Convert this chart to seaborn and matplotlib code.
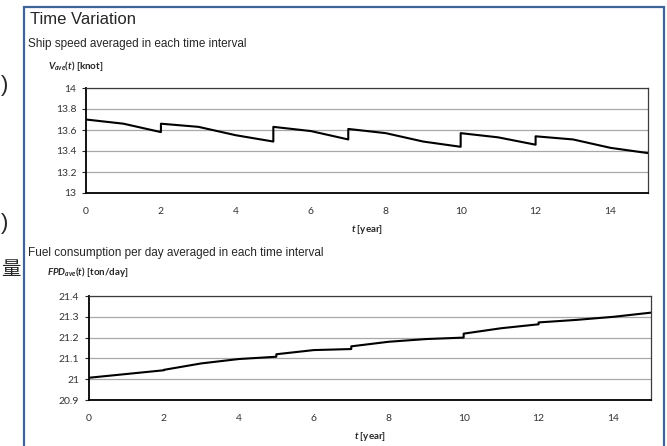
import matplotlib
matplotlib.use("Agg")
import matplotlib.pyplot as plt
from matplotlib.patches import Rectangle
import seaborn as sns
import pandas as pd

# time points; repeated years are where the average jumps
t_year = [0, 1, 2, 2, 3, 4, 5, 5, 6, 7, 7, 8, 9, 10, 10, 11, 12, 12, 13, 14, 15]
speed = [13.70, 13.66, 13.58, 13.66, 13.63, 13.55, 13.49, 13.63, 13.59, 13.51, 13.61,
         13.57, 13.49, 13.44, 13.57, 13.53, 13.46, 13.54, 13.51, 13.43, 13.38]
fuel = [21.007, 21.025, 21.043, 21.045, 21.076, 21.097, 21.108, 21.120, 21.140, 21.145, 21.158,
        21.180, 21.193, 21.200, 21.219, 21.245, 21.264, 21.273, 21.285, 21.300, 21.320]

speed_ticks = [13, 13.2, 13.4, 13.6, 13.8, 14]
fuel_ticks = [20.9, 21, 21.1, 21.2, 21.3, 21.4]
year_ticks = [0, 2, 4, 6, 8, 10, 12, 14]

df = pd.DataFrame({"t": t_year, "speed": speed, "fuel": fuel})

sns.set_style("white")
plt.rcParams["font.family"] = ["Liberation Sans", "Noto Sans CJK JP", "DejaVu Sans"]
plt.rcParams["mathtext.fontset"] = "custom"
plt.rcParams["mathtext.rm"] = "Lato:bold"
plt.rcParams["mathtext.bf"] = "Lato:bold"
plt.rcParams["mathtext.it"] = "Lato:bold:italic"

W, H = 667, 446
fig = plt.figure(figsize=(W / 100, H / 100), dpi=100)


def px_axes(l, t, r, b):
    return fig.add_axes([l / W, 1 - b / H, (r - l) / W, (b - t) / H])


def style_axes(ax, ticks, ylim):
    ax.set_xlim(0, 15)
    ax.set_ylim(*ylim)
    ax.set_xticks(year_ticks)
    ax.set_yticks(ticks)
    ax.set_yticklabels([f"{v:g}" for v in ticks])
    ax.grid(axis="y", color="#a8a8a8", lw=0.9)
    ax.grid(axis="x", visible=False)
    for s in ["top", "right"]:
        ax.spines[s].set_color("#3c3c3c")
        ax.spines[s].set_linewidth(0.9)
    for s in ["left", "bottom"]:
        ax.spines[s].set_color("black")
        ax.spines[s].set_linewidth(1.3)
    ax.tick_params(axis="x", direction="in", length=3, width=0.8, pad=10,
                   labelsize=7.5, labelcolor="#333333")
    ax.tick_params(axis="y", direction="out", length=3, width=0.8, pad=4,
                   labelsize=7.5, labelcolor="#333333", left=True)
    for lab in ax.get_xticklabels() + ax.get_yticklabels():
        lab.set_family("Lato")
    ax.set_ylabel("")


ax1 = px_axes(86, 88, 648, 193)
sns.lineplot(data=df, x="t", y="speed", ax=ax1, sort=False, estimator=None,
             color="black", lw=1.5)
style_axes(ax1, speed_ticks, (13, 14))
ax1.set_xlabel(r"$t$ [year]", fontsize=7, family="Lato", weight="bold", labelpad=5)

ax2 = px_axes(89, 296, 651, 400)
sns.lineplot(data=df, x="t", y="fuel", ax=ax2, sort=False, estimator=None,
             color="black", lw=1.5)
style_axes(ax2, fuel_ticks, (20.9, 21.4))
ax2.set_xlabel(r"$t$ [year]", fontsize=7, family="Lato", weight="bold", labelpad=5)

# outer frame
fig.patches.append(Rectangle((24 / W, -0.05), (664 - 24) / W, 1.05 - 7 / H,
                             transform=fig.transFigure, fill=False,
                             edgecolor="#3e649a", lw=1.6))

fig.text(30 / W, 1 - 19 / H, "Time Variation", fontsize=12, va="center", ha="left")
fig.text(28 / W, 1 - 44 / H, "Ship speed averaged in each time interval",
         fontsize=8.5, va="center", ha="left")
fig.text(48 / W, 1 - 66 / H, r"$V_{ave}(t)$ [knot]", fontsize=7, family="Lato",
         weight="bold", va="center", ha="left")
fig.text(28 / W, 1 - 253 / H, "Fuel consumption per day averaged in each time interval",
         fontsize=8.5, va="center", ha="left")
fig.text(47 / W, 1 - 272 / H, r"$FPD_{ave}(t)$ [ton/day]", fontsize=7, family="Lato",
         weight="bold", va="center", ha="left")

# fragments of the surrounding page at the left edge
fig.text(1 / W, 1 - 85 / H, ")", fontsize=16, va="center", ha="left")
fig.text(1 / W, 1 - 224 / H, ")", fontsize=16, va="center", ha="left")
fig.text(1 / W, 1 - 270 / H, "量", fontsize=14, va="center", ha="left",
         family=["Noto Sans CJK JP"])

fig.savefig("out.png", dpi=100)
